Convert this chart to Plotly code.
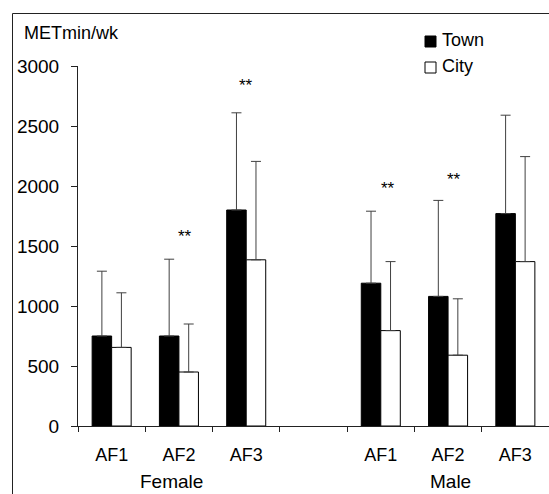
import plotly.graph_objects as go

# ---- data ----
groups = ["Female", "Male"]
categories = ["AF1", "AF2", "AF3"]
town_mean = [750, 750, 1800, 1190, 1080, 1770]
town_sd = [540, 640, 810, 600, 800, 820]
city_mean = [655, 450, 1385, 795, 590, 1370]
city_sd = [455, 400, 820, 575, 470, 875]
# significance marks: (bar index, height, horizontal offset within category)
star_index = [1, 2, 3, 4]
star_height = [1600, 2856, 2000, 2075]
star_offset = [0.095, 0.0, 0.114, 0.083]
y_ticks = [0, 500, 1000, 1500, 2000, 2500, 3000]

# ---- layout helpers ----
W, H = 549, 494
L, R, T, B = 78, 0, 66, 68
PW, PH = W - L - R, H - T - B
FONT = "Liberation Sans, Arial, sans-serif"


def px_x(p):
    return (p - L) / PW


def px_y(p):
    return (H - B - p) / PH


n_per_group = len(categories)
xpos = []
for g in range(len(groups)):
    for c in range(n_per_group):
        xpos.append(g * (n_per_group + 1) + c)
xlabels = categories * len(groups)
boundaries = [i - 0.5 for i in range(len(groups) * (n_per_group + 1))]

fig = go.Figure()
fig.add_trace(go.Bar(
    x=xpos, y=town_mean, name="Town",
    marker=dict(color="black", line=dict(color="black", width=1)),
    error_y=dict(type="data", array=town_sd, arrayminus=[0] * len(town_sd),
                 symmetric=False, color="#404040", thickness=1, width=5),
))
fig.add_trace(go.Bar(
    x=xpos, y=city_mean, name="City",
    marker=dict(color="white", line=dict(color="black", width=1)),
    error_y=dict(type="data", array=city_sd, arrayminus=[0] * len(city_sd),
                 symmetric=False, color="#404040", thickness=1, width=5),
))

annotations = []
for i, h, off in zip(star_index, star_height, star_offset):
    annotations.append(dict(x=xpos[i] + off, y=h, xref="x", yref="y",
                            text="**", showarrow=False, yshift=-2,
                            font=dict(size=17, color="black", family=FONT)))

# group labels
group_centers = [0.89, 5.04]
for gname, gx in zip(groups, group_centers):
    annotations.append(dict(x=gx, y=px_y(482), xref="x", yref="paper",
                            text=gname, showarrow=False, yanchor="middle",
                            font=dict(size=19, color="black", family=FONT)))

# y unit label
annotations.append(dict(x=px_x(22), y=px_y(33), xref="paper", yref="paper",
                        text="METmin/wk", showarrow=False, xanchor="left",
                        yanchor="middle",
                        font=dict(size=18, color="black", family=FONT)))

# legend (manual)
legend_names = ["Town", "City"]
legend_fill = ["black", "white"]
legend_cy = [41.5, 67.5]
shapes = []
for name, fill, cy in zip(legend_names, legend_fill, legend_cy):
    shapes.append(dict(type="rect", xref="paper", yref="paper",
                       x0=px_x(425), x1=px_x(436), y0=px_y(cy + 5.5), y1=px_y(cy - 5.5),
                       fillcolor=fill, line=dict(color="black", width=1)))
    annotations.append(dict(x=px_x(440), y=px_y(cy - 1.5), xref="paper", yref="paper",
                            text=name, showarrow=False, xanchor="left",
                            yanchor="middle",
                            font=dict(size=18, color="black", family=FONT)))

# outer frame
shapes.append(dict(type="rect", xref="paper", yref="paper",
                   x0=px_x(12.5), x1=px_x(W + 20), y0=px_y(H + 20), y1=px_y(13.5),
                   line=dict(color="#222222", width=1), fillcolor="rgba(0,0,0,0)"))

fig.update_layout(
    width=W, height=H,
    margin=dict(l=L, r=R, t=T, b=B),
    paper_bgcolor="white", plot_bgcolor="white",
    barmode="group", bargap=0.42, bargroupgap=0,
    showlegend=False,
    font=dict(family=FONT, size=18, color="black"),
    annotations=annotations, shapes=shapes,
    xaxis=dict(range=[-0.5, 6.5], tickmode="array", tickvals=xpos, ticktext=xlabels,
               ticks="", showline=True, linecolor="#222222", linewidth=1,
               showgrid=False, zeroline=False, ticklabelstandoff=12,
               tickfont=dict(size=18, family=FONT, color="black"),
               minor=dict(tickmode="array", tickvals=boundaries, ticks="outside",
                          ticklen=5, tickcolor="#222222", tickwidth=1, showgrid=False)),
    yaxis=dict(range=[0, 3000], tickmode="array", tickvals=y_ticks,
               ticks="outside", ticklen=6, tickcolor="#222222", tickwidth=1,
               showline=True, linecolor="#222222", linewidth=1,
               showgrid=False, zeroline=False, ticklabelstandoff=8,
               tickfont=dict(size=19, family=FONT, color="black")),
)

fig.write_html(
    "out.html",
    config={"displayModeBar": False},
    post_script="document.body.style.margin='0';document.body.style.overflow='hidden';",
)
